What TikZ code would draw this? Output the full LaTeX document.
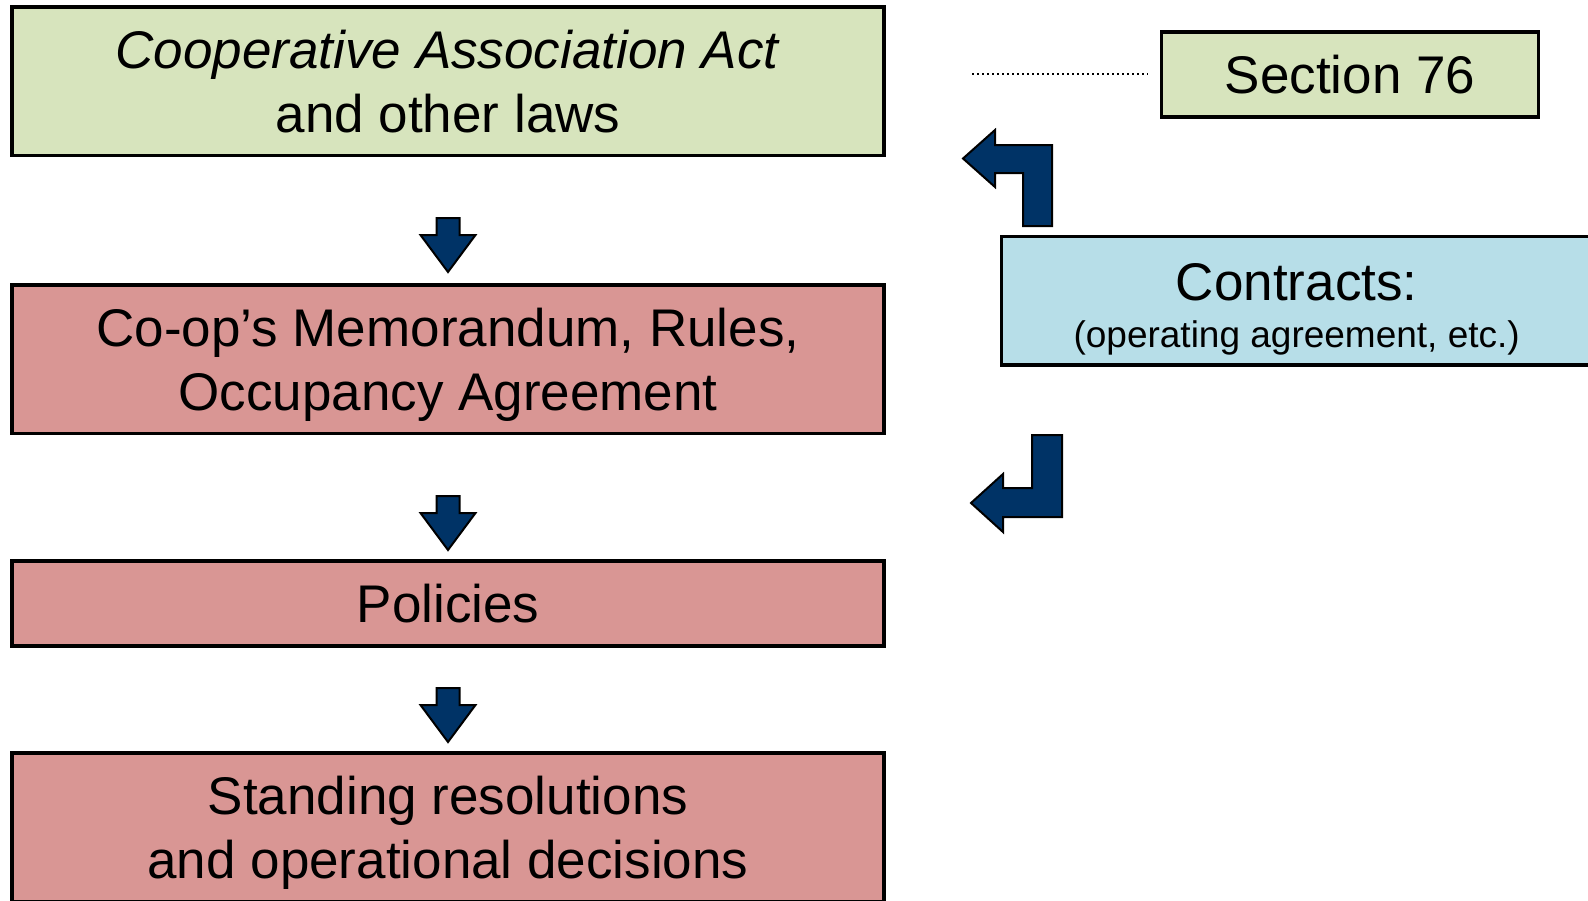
\documentclass[tikz,border=0pt]{standalone}
\usepackage{fontspec}
\setmainfont{Liberation Sans}
\definecolor{lawgreen}{HTML}{D7E4BD}
\definecolor{cooprose}{HTML}{D99694}
\definecolor{contractblue}{HTML}{B7DEE8}
\definecolor{arrownavy}{HTML}{003366}
\begin{document}
\begin{tikzpicture}[x=1pt,y=-1pt,
  box/.style={draw=black, line width=3.5pt, minimum width=872pt,
    minimum height=148.5pt, inner sep=0pt, align=center, text depth=0pt,
    font=\fontsize{53}{64}\selectfont},
  blockarrow/.style={fill=arrownavy, draw=black, line width=2pt, line join=miter},
  dotline/.style={draw=black, line width=2.2pt, dash pattern=on 2.2pt off 2.8pt},
  downarrow/.pic={
    \path[blockarrow] (-11.5,0) -- (11.5,0) -- (11.5,17) -- (27.5,17)
      -- (0,54) -- (-27.5,17) -- (-11.5,17) -- cycle;
  }
]
\useasboundingbox (0,0) rectangle (1588,900);
\clip (0,0) rectangle (1588,900);

% hierarchy of governing documents
\node[box, fill=lawgreen] (law) at (448,81.25)
  {\textit{Cooperative Association Act}\\and other laws};
\node[box, fill=cooprose] (memo) at (448,359.25)
  {Co-op’s Memorandum, Rules,\\Occupancy Agreement};
\node[box, fill=cooprose, minimum height=85pt] (pol) at (448,603.5) {Policies};
\node[box, fill=cooprose] (stand) at (448,827)
  {Standing resolutions\\and operational decisions};

% down arrows between the levels
\pic at (448,218) {downarrow};
\pic at (448,496) {downarrow};
\pic at (448,688) {downarrow};

% side boxes
\node[box, fill=lawgreen, minimum width=377pt, minimum height=85pt] (sec)
  at (1350,74.4) {Section 76};
\node[box, fill=contractblue, minimum width=590pt, minimum height=128.5pt,
  font=\fontsize{53}{47}\selectfont] (con) at (1296.7,300.75)
  {\rule{0pt}{47pt}Contracts:\\{\fontsize{37}{47}\selectfont (operating agreement, etc.)}};

% dotted leader to Section 76
\coordinate (dotstart) at (972,74);
\draw[dotline, shorten >=11.5pt] (dotstart) -- (sec.west |- dotstart);

% bent arrows from the contracts box
\path[blockarrow] (1023,226) -- (1052,226) -- (1052,145) -- (995,145)
  -- (995,130) -- (963,158.5) -- (995,187) -- (995,173) -- (1023,173) -- cycle;
\path[blockarrow] (1032,435) -- (1062,435) -- (1062,517) -- (1003,517)
  -- (1003,532) -- (971,503) -- (1003,474) -- (1003,488) -- (1032,488) -- cycle;
\end{tikzpicture}
\end{document}
